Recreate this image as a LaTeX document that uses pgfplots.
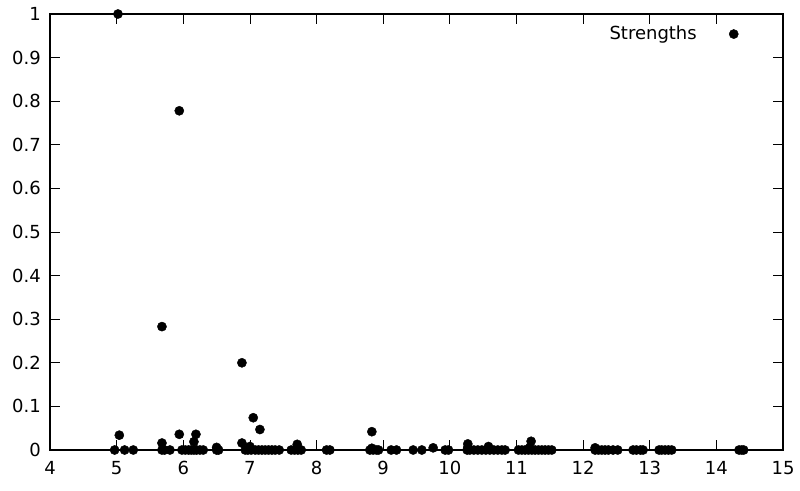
\documentclass[border=0pt]{standalone}
\usepackage{pgfplots}
\pgfplotsset{compat=1.18}
\usepackage{fontspec}
\setmainfont{DejaVu Sans}
\begin{document}
\fontsize{18}{21}\selectfont
\begin{tikzpicture}[x=1pt,y=1pt]
\path[use as bounding box] (0,0) rectangle (800,490);
\begin{axis}[
  at={(50pt,40pt)}, anchor=south west,
  scale only axis,
  width=733pt, height=436pt,
  xmin=4, xmax=15, ymin=0, ymax=1,
  xtick={4,...,15},
  ytick={0,0.1,...,1},
  yticklabels={0,0.1,0.2,0.3,0.4,0.5,0.6,0.7,0.8,0.9,1},
  tick align=inside,
  major tick length=10pt,
  axis line style={line width=1.2pt},
  every tick/.style={black, line width=0.8pt},
  /pgf/number format/assume math mode=true,
  tick label style={font=\fontsize{18}{21}\selectfont},
  xticklabel style={yshift=-5pt},
  yticklabel style={xshift=-3pt},
  clip=false,
  legend plot pos=right,
  legend image code/.code={\path[draw=none] (0pt,0pt) -- (40pt,0pt);
    \fill[black] (35pt,0pt) circle[radius=4.6pt];},
  legend style={draw=none, fill=none, at={(axis description cs:0.944,0.954)},
    anchor=east, font=\fontsize{18}{21}\selectfont},
]
\addplot[only marks, mark=*, mark size=4.6pt, black] coordinates {
(5.02,1.0) (5.94,0.778) (5.68,0.283) (6.88,0.200) (7.05,0.074) (7.15,0.047)
(8.83,0.042) (5.04,0.034) (5.94,0.036) (6.19,0.036) (11.22,0.020) (6.16,0.019)
(5.68,0.016) (6.88,0.016) (10.27,0.014) (7.71,0.013) (10.58,0.008) (6.5,0.006)
(9.75,0.005) (12.18,0.005) (7.0,0.008) (11.2,0.006) (8.83,0.004) (10.27,0.006)
(4.97,0) (5.12,0) (5.25,0)
(5.68,0) (5.72,0) (5.8,0)
(5.98,0) (6.03,0) (6.08,0) (6.12,0) (6.16,0) (6.2,0) (6.25,0) (6.3,0) (6.5,0) (6.53,0)
(6.93,0) (6.97,0) (7.02,0) (7.08,0) (7.13,0) (7.18,0) (7.23,0) (7.28,0) (7.33,0) (7.38,0) (7.44,0)
(7.62,0) (7.67,0) (7.72,0) (7.77,0)
(8.15,0) (8.2,0)
(8.8,0) (8.85,0) (8.9,0) (8.93,0)
(9.12,0) (9.2,0)
(9.45,0) (9.58,0)
(9.93,0) (9.98,0)
(10.26,0) (10.3,0) (10.36,0) (10.42,0) (10.48,0) (10.54,0) (10.6,0) (10.66,0) (10.72,0) (10.78,0) (10.83,0)
(11.03,0) (11.08,0) (11.13,0) (11.18,0) (11.23,0) (11.28,0) (11.33,0) (11.38,0) (11.43,0) (11.48,0) (11.53,0)
(12.18,0) (12.23,0) (12.28,0) (12.33,0) (12.38,0) (12.45,0) (12.52,0)
(12.75,0) (12.8,0) (12.86,0) (12.9,0)
(13.14,0) (13.18,0) (13.23,0) (13.28,0) (13.33,0)
(14.34,0) (14.38,0) (14.41,0)
};
\addlegendentry{Strengths}
\end{axis}
\end{tikzpicture}
\end{document}
